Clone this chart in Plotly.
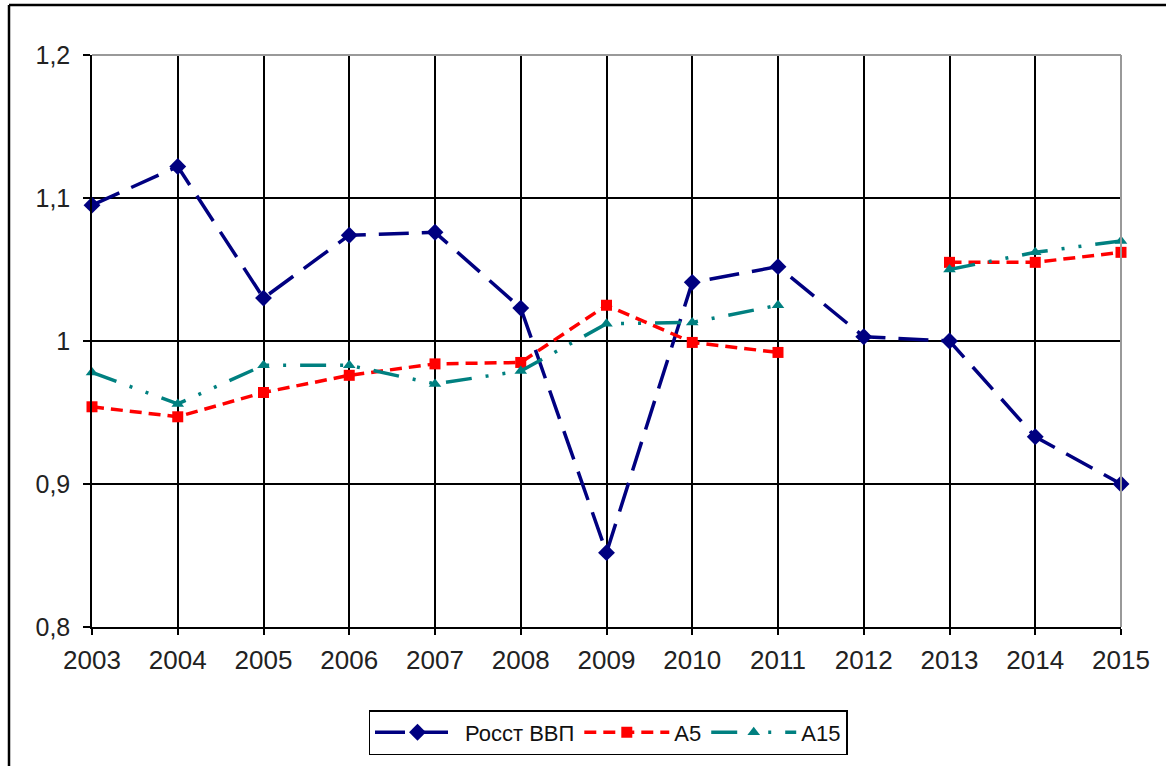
import plotly.graph_objects as go

years = [2003, 2004, 2005, 2006, 2007, 2008, 2009, 2010, 2011, 2012, 2013, 2014, 2015]
gdp_growth = [1.095, 1.122, 1.030, 1.074, 1.076, 1.023, 0.852, 1.041, 1.052, 1.003, 1.000, 0.933, 0.900]
a5 = [0.954, 0.947, 0.964, 0.976, 0.984, 0.985, 1.025, 0.999, 0.992, None, 1.055, 1.055, 1.062]
a15 = [0.978, 0.956, 0.983, 0.983, 0.970, 0.979, 1.012, 1.013, 1.025, None, 1.050, 1.062, 1.070]
y_ticks = [0.8, 0.9, 1.0, 1.1, 1.2]
y_labels = ["0,8", "0,9", "1", "1,1", "1,2"]

W, H = 1166, 766
L, R, T, B = 92, 45, 55, 138
pw, ph = W - L - R, H - T - B

def px(x):
    return (x - L) / pw

def py(y):
    return (H - B - y) / ph

fig = go.Figure()
fig.add_trace(go.Scatter(
    x=years, y=gdp_growth, name="Росст ВВП", mode="lines+markers",
    line=dict(color="#000080", width=3.5, dash="30px,13px"),
    marker=dict(symbol="diamond", size=13, color="#000080"),
    cliponaxis=False))
fig.add_trace(go.Scatter(
    x=years, y=a5, name="A5", mode="lines+markers",
    line=dict(color="#FF0000", width=3.5, dash="12px,7px"),
    marker=dict(symbol="square", size=11, color="#FF0000"),
    cliponaxis=False))
fig.add_trace(go.Scatter(
    x=years, y=a15, name="A15", mode="lines+markers",
    line=dict(color="#008080", width=3.5, dash="26px,14px,3px,14px,3px,14px"),
    marker=dict(symbol="triangle-up", size=11, color="#008080"),
    cliponaxis=False))

font_family = "Liberation Sans, Arial, sans-serif"
fig.update_layout(
    width=W, height=H,
    margin=dict(l=L, r=R, t=T, b=B),
    paper_bgcolor="white", plot_bgcolor="white",
    font=dict(family=font_family, size=23, color="#222222"),
    showlegend=True,
    legend=dict(orientation="h", x=px(608), xanchor="center", y=py(710), yanchor="top",
                bordercolor="black", borderwidth=1.5, bgcolor="white",
                font=dict(size=22, color="#111111"), itemwidth=85,
                tracegroupgap=0),
    xaxis=dict(range=[2003, 2015], tickvals=years, ticktext=[str(y) for y in years],
               showgrid=True, gridcolor="black", gridwidth=1.5,
               showline=True, linecolor="black", linewidth=1.5,
               ticks="outside", ticklen=6, tickcolor="black", tickwidth=1.5,
               ticklabelstandoff=3,
               zeroline=False, tickfont=dict(size=26)),
    yaxis=dict(range=[0.8, 1.2], tickvals=y_ticks, ticktext=y_labels,
               showgrid=True, gridcolor="black", gridwidth=1.5,
               showline=True, linecolor="black", linewidth=1.5,
               ticks="outside", ticklen=7, tickcolor="black", tickwidth=1.5,
               ticklabelstandoff=8,
               zeroline=False, tickfont=dict(size=25)),
    shapes=[
        dict(type="line", xref="paper", yref="paper", x0=0, x1=1, y0=1, y1=1,
             line=dict(color="#999999", width=2)),
        dict(type="line", xref="paper", yref="paper", x0=1, x1=1, y0=0, y1=1,
             line=dict(color="#999999", width=2)),
        dict(type="line", xref="paper", yref="paper", x0=px(9), x1=px(1200), y0=py(5), y1=py(5),
             line=dict(color="black", width=2.5)),
        dict(type="line", xref="paper", yref="paper", x0=px(9), x1=px(9), y0=py(5), y1=py(800),
             line=dict(color="black", width=2.5)),
    ],
)

fig.write_html("out.html", config={"displayModeBar": False},
               post_script="document.body.style.margin='0';document.body.style.overflow='hidden';")
